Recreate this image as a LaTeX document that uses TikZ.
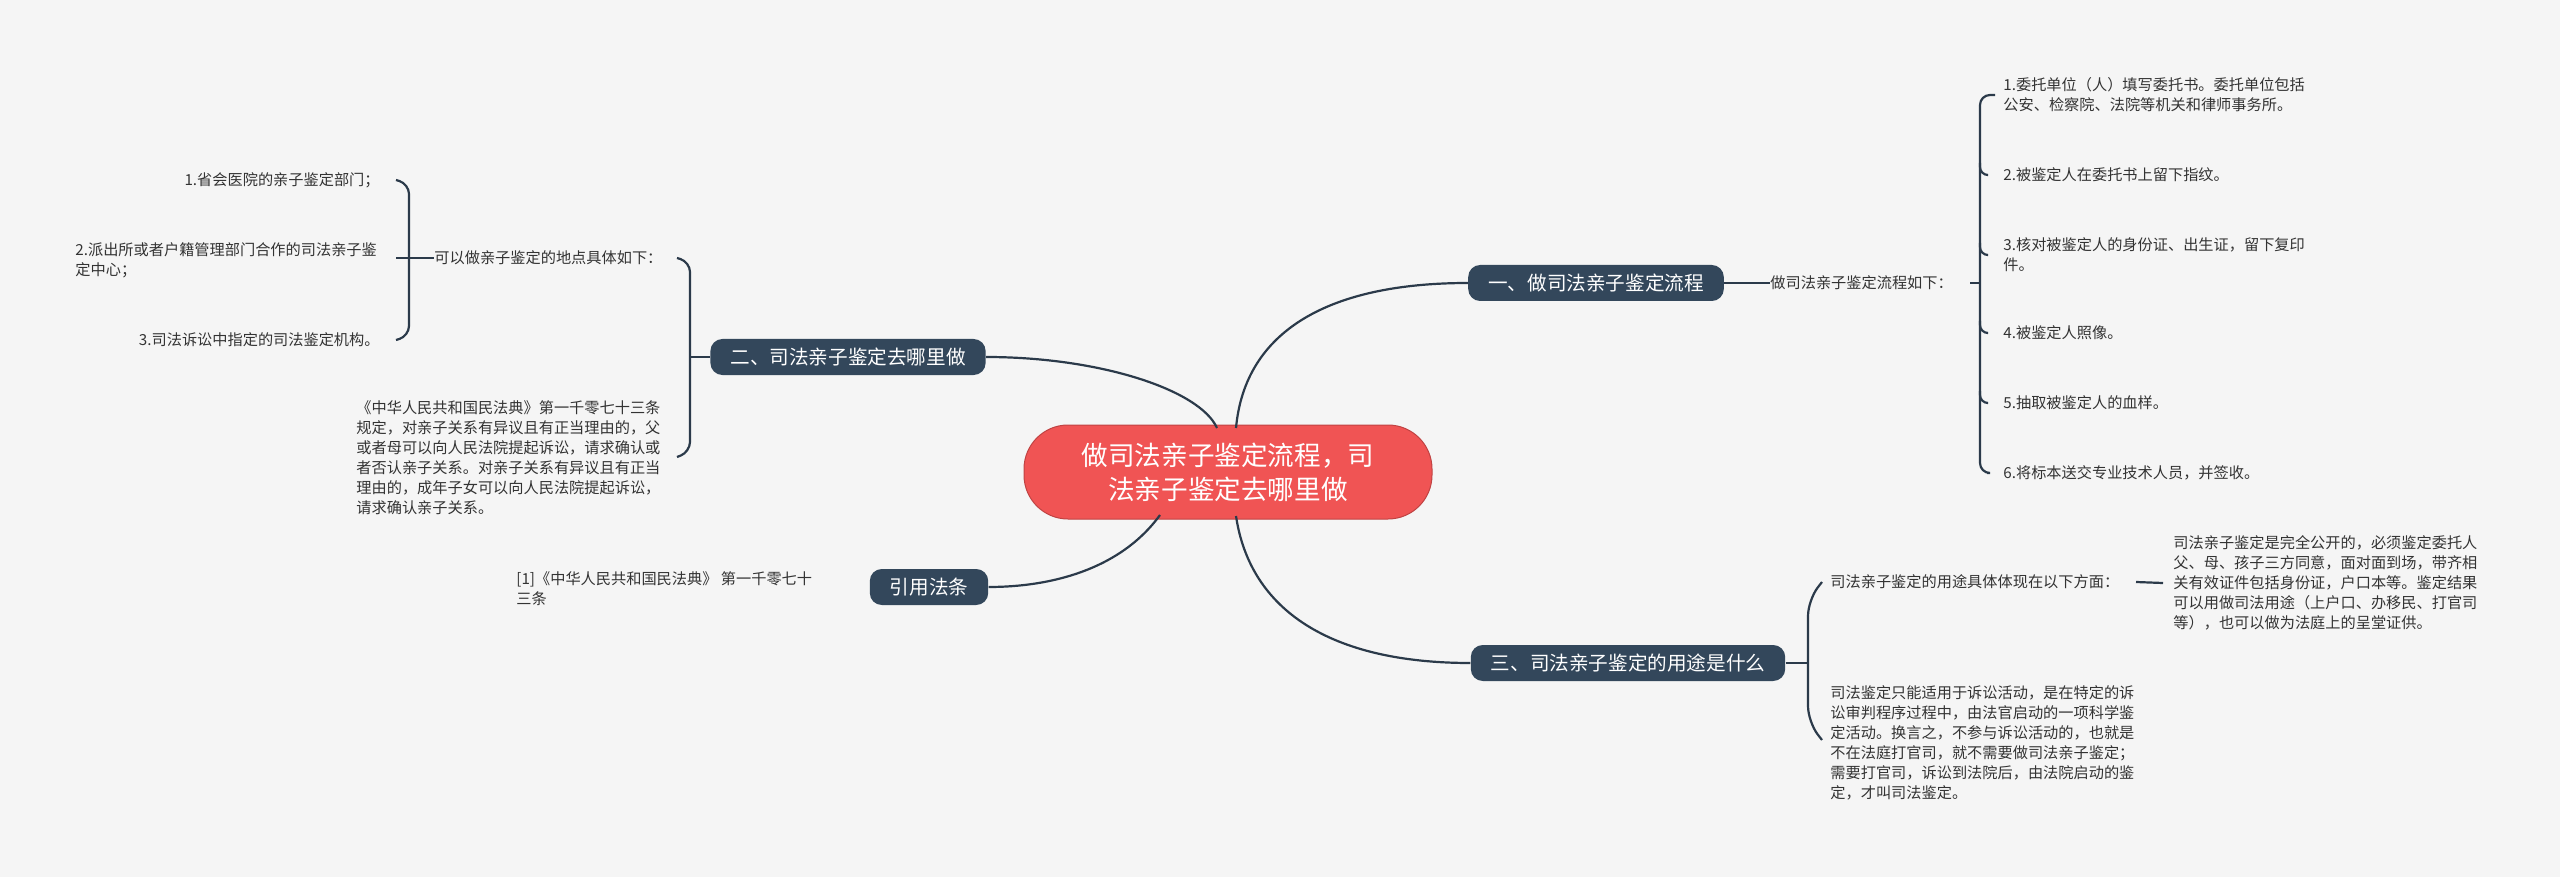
\documentclass[tikz,border=0pt]{standalone}
\usepackage{fontspec}
\setmainfont{Noto Sans CJK SC}
\begin{document}
\begin{tikzpicture}[x=0.5pt,y=-0.5pt,
  ln/.style={draw=lnc,line width=1.1pt},
  br/.style={rounded corners=6pt,fill=brc,text=white,font=\fontsize{9.8pt}{12pt}\selectfont,inner xsep=10pt,minimum height=18pt,inner ysep=0pt},
  tx/.style={inner sep=0pt,font=\fontsize{7.6pt}{10pt}\selectfont,text=txc,align=left},
  txr/.style={tx,align=right}]
\definecolor{bg}{HTML}{F5F5F5}
\definecolor{lnc}{HTML}{2B3A4A}
\definecolor{brc}{HTML}{33475B}
\definecolor{ctr}{HTML}{F05454}
\definecolor{txc}{HTML}{333333}
\fill[bg] (0,0) rectangle (2560,877);
\useasboundingbox (0,0) rectangle (2560,877);
% center
\node[rounded corners=22pt,fill=ctr,draw=ctr!80!black,line width=0.5pt,text=white,minimum width=204pt,minimum height=47pt,align=center,font=\fontsize{13.3pt}{17pt}\selectfont] (c) at (1228,472) {做司法亲子鉴定流程，司\\法亲子鉴定去哪里做};
% branches
\node[br] (b1) at (1596,283) {一、做司法亲子鉴定流程};
\node[br] (b2) at (848,357) {二、司法亲子鉴定去哪里做};
\node[br] (b3) at (929,587) {引用法条};
\node[br] (b4) at (1628,663) {三、司法亲子鉴定的用途是什么};
\draw[ln] (1236,428) .. controls (1245,330) and (1330,283) .. (b1.west);
\draw[ln] (1217,428) .. controls (1200,390) and (1100,357) .. (b2.east);
\draw[ln] (1160,515) .. controls (1120,570) and (1050,587) .. (b3.east);
\draw[ln] (1236,516) .. controls (1250,610) and (1330,663) .. (b4.west);
% branch 1
\node[tx,anchor=west] (p1) at (1770,283) {做司法亲子鉴定流程如下：};
\draw[ln] (b1.east) -- (p1.west);
\node[tx,anchor=west] (i1) at (2003,95) {1.委托单位（人）填写委托书。委托单位包括\\公安、检察院、法院等机关和律师事务所。};
\node[tx,anchor=west] (i2) at (2003,175) {2.被鉴定人在委托书上留下指纹。};
\node[tx,anchor=west] (i3) at (2003,255) {3.核对被鉴定人的身份证、出生证，留下复印\\件。};
\node[tx,anchor=west] (i4) at (2003,333) {4.被鉴定人照像。};
\node[tx,anchor=west] (i5) at (2003,403) {5.抽取被鉴定人的血样。};
\node[tx,anchor=west] (i6) at (2003,473) {6.将标本送交专业技术人员，并签收。};
\coordinate (k1) at (1980,283);
\draw[ln] (p1.east)++(17,0) -- (k1);
\draw[ln,rounded corners=5pt] (i1.west)++(-8,0) -- (1980,95) -- (1980,473) -- ([xshift=-8]i6.west);
\foreach \n in {i2,i3,i4,i5}{\draw[ln,rounded corners=4pt] (1980,283|-\n.west) ++(0,-12) -- ++(0,12) -- ([xshift=-8]\n.west);}
% branch 2
\node[tx,anchor=west] (p2) at (434,258) {可以做亲子鉴定的地点具体如下：};
\node[txr,anchor=east] (j1) at (380,180) {1.省会医院的亲子鉴定部门；};
\node[tx,anchor=west] (j2) at (75,260) {2.派出所或者户籍管理部门合作的司法亲子鉴\\定中心；};
\node[txr,anchor=east] (j3) at (380,340) {3.司法诉讼中指定的司法鉴定机构。};
\node[tx,anchor=west] (q2) at (356,458) {《中华人民共和国民法典》第一千零七十三条\\规定，对亲子关系有异议且有正当理由的，父\\或者母可以向人民法院提起诉讼，请求确认或\\者否认亲子关系。对亲子关系有异议且有正当\\理由的，成年子女可以向人民法院提起诉讼，\\请求确认亲子关系。};
\draw[ln,rounded corners=5pt] (677,258) -- (690,262) -- (690,452) -- (677,457);
\draw[ln] (690,357) -- (b2.west);
\draw[ln,rounded corners=5pt] (396,180) -- (409,184) -- (409,336) -- (396,340);
\draw[ln] (396,258) -- (p2.west);
% citation
\node[tx,anchor=west] (r1) at (516,589) {[1]《中华人民共和国民法典》 第一千零七十\\三条};
% branch 3
\node[tx,anchor=west] (s1) at (1830,582) {司法亲子鉴定的用途具体体现在以下方面：};
\node[tx,anchor=west] (s2) at (1830,743) {司法鉴定只能适用于诉讼活动，是在特定的诉\\讼审判程序过程中，由法官启动的一项科学鉴\\定活动。换言之，不参与诉讼活动的，也就是\\不在法庭打官司，就不需要做司法亲子鉴定；\\需要打官司，诉讼到法院后，由法院启动的鉴\\定，才叫司法鉴定。};
\node[tx,anchor=west] (s3) at (2173,583) {司法亲子鉴定是完全公开的，必须鉴定委托人\\父、母、孩子三方同意，面对面到场，带齐相\\关有效证件包括身份证，户口本等。鉴定结果\\可以用做司法用途（上户口、办移民、打官司\\等），也可以做为法庭上的呈堂证供。};
\draw[ln,rounded corners=8pt] (1822,582) -- (1808,600) -- (1808,722) -- (1822,740);
\draw[ln] (b4.east) -- (1808,663);
\draw[ln] (2136,582) -- (s3.west -| 2163,0);
\end{tikzpicture}
\end{document}
